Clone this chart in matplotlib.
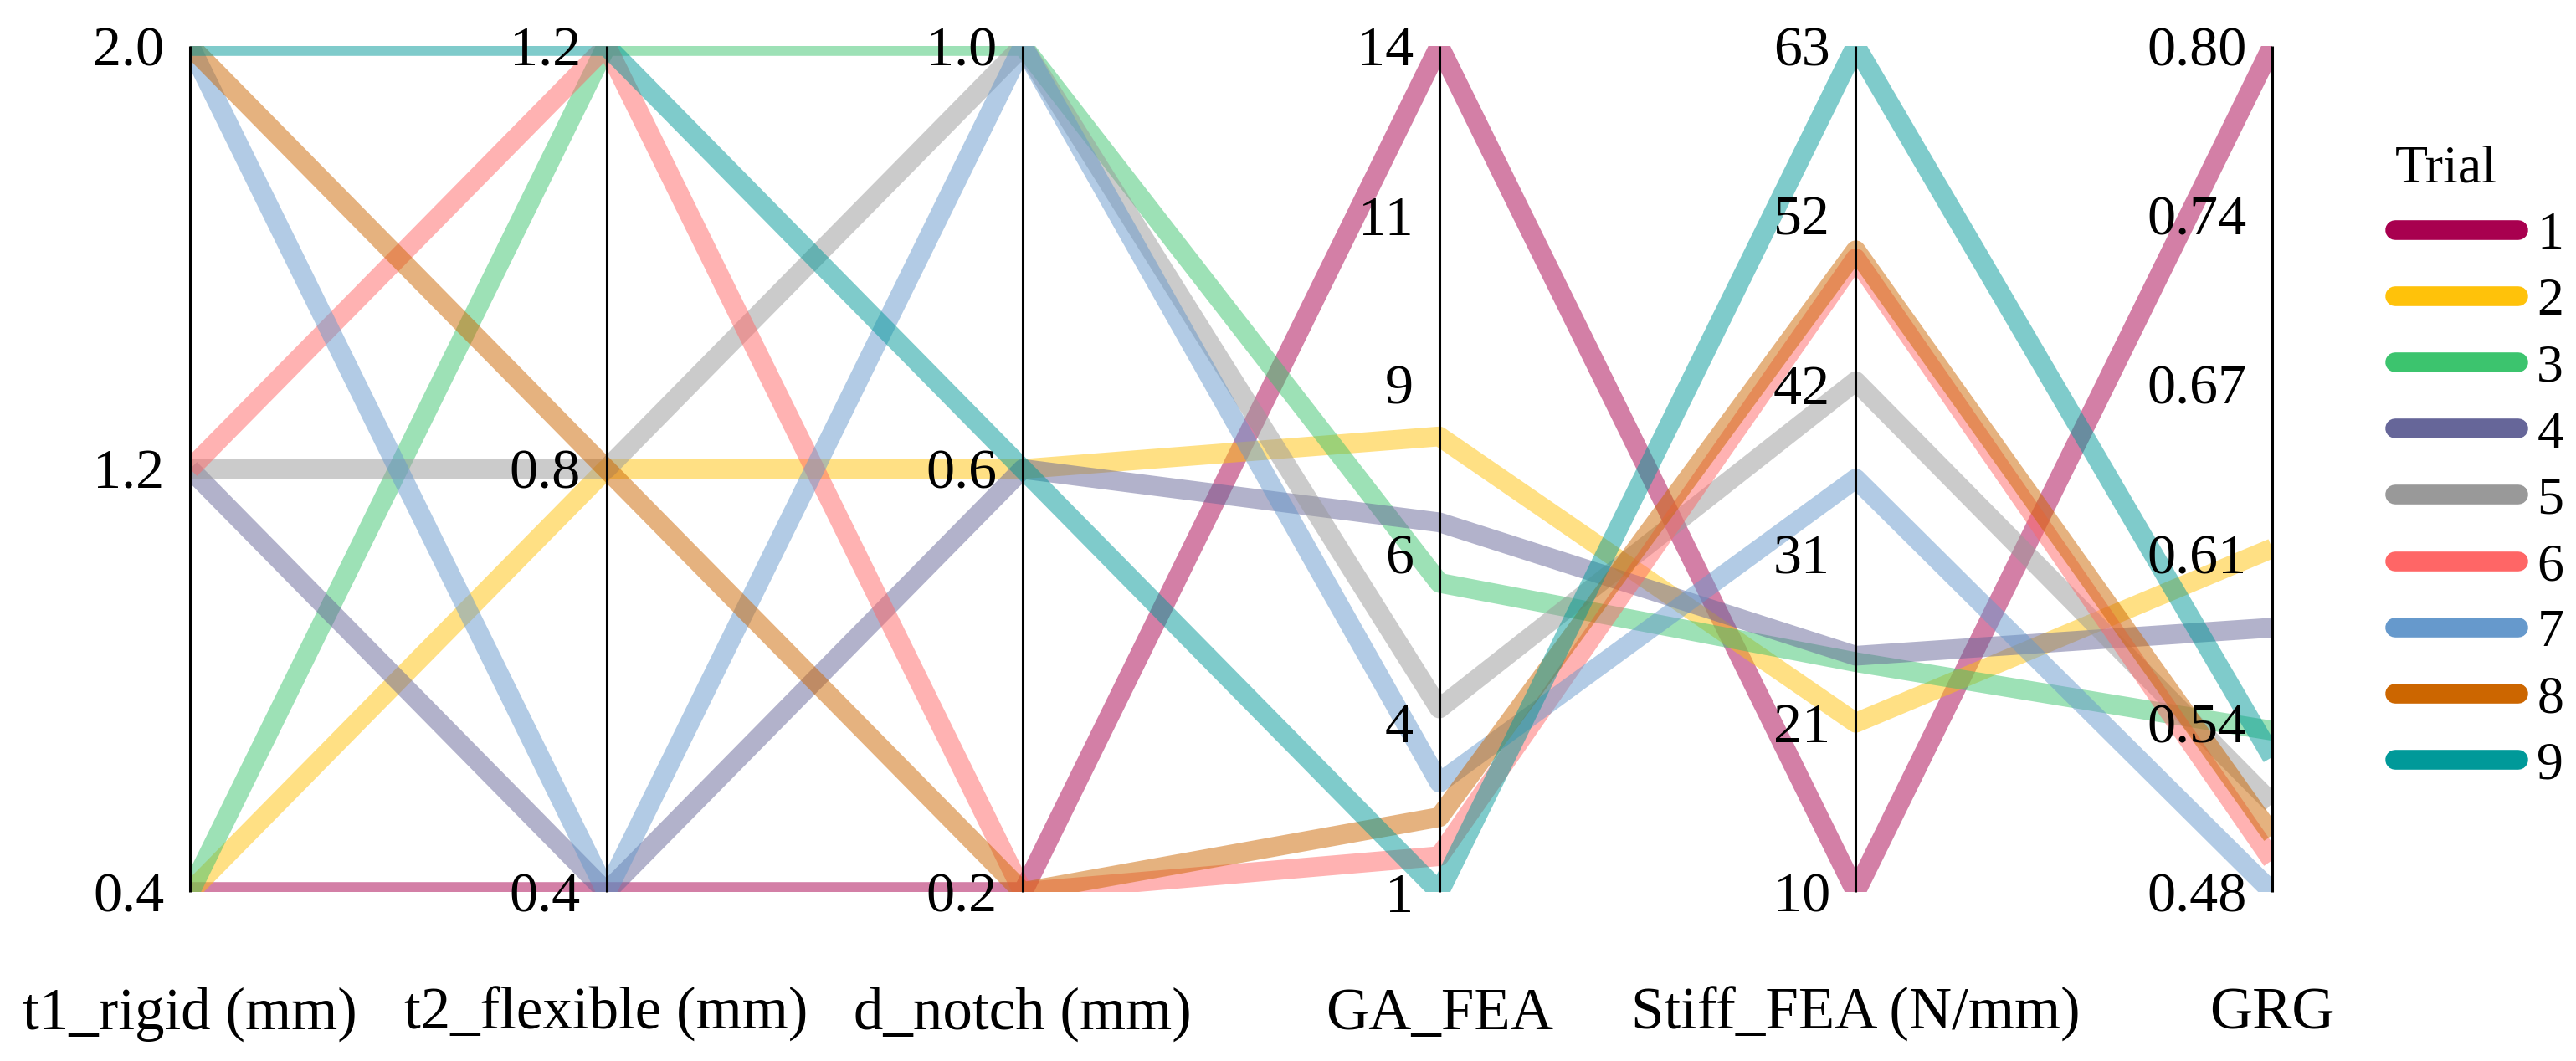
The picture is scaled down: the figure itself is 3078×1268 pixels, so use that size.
import os
import glob
import matplotlib.pyplot as plt
from matplotlib import font_manager
from matplotlib.font_manager import FontProperties
from matplotlib.lines import Line2D
import numpy as np

# look for a Times-like serif file (Liberation Serif), use it directly by path
serif_path = None
candidates = list(font_manager.findSystemFonts())
candidates += glob.glob('/usr/**/*.ttf', recursive=True)
candidates += [f.fname for f in font_manager.fontManager.ttflist]
for f in candidates:
    b = os.path.basename(f).lower().replace(' ', '').replace('-', '')
    if b.startswith('liberationserif') and 'regular' in b:
        serif_path = f
        break


def fprop(size):
    if serif_path:
        return FontProperties(fname=serif_path, size=size)
    return FontProperties(family='serif', size=size)


# trial data (L9 design + FEA responses)
trials = ['1', '2', '3', '4', '5', '6', '7', '8', '9']
t1_rigid = [0.4, 0.4, 0.4, 1.2, 1.2, 1.2, 2.0, 2.0, 2.0]
t2_flexible = [0.4, 0.8, 1.2, 0.4, 0.8, 1.2, 0.4, 0.8, 1.2]
d_notch = [0.2, 0.6, 1.0, 0.6, 1.0, 0.2, 1.0, 0.2, 0.6]
ga_fea = [14.0, 8.0, 5.75, 6.68, 3.82, 1.55, 2.68, 2.15, 1.0]
stiff_fea = [10.0, 20.6, 24.4, 24.8, 42.0, 49.7, 35.9, 50.2, 63.0]
grg = [0.80, 0.610, 0.541, 0.580, 0.5135, 0.492, 0.48, 0.5015, 0.531]

colors = ['#A8004F', '#FFC20A', '#3CC46E', '#666699', '#999999',
          '#FF6666', '#6699CC', '#CC6600', '#009999']

axis_names = ['t1_rigid (mm)', 't2_flexible (mm)', 'd_notch (mm)',
              'GA_FEA', 'Stiff_FEA (N/mm)', 'GRG']
axis_ranges = [(0.4, 2.0), (0.4, 1.2), (0.2, 1.0), (1, 14), (10, 63), (0.48, 0.80)]
tick_values = [
    [0.4, 1.2, 2.0],
    [0.4, 0.8, 1.2],
    [0.2, 0.6, 1.0],
    [1, 3.6, 6.2, 8.8, 11.4, 14],
    [10, 20.6, 31.2, 41.8, 52.4, 63],
    [0.48, 0.544, 0.608, 0.672, 0.736, 0.80],
]
tick_labels = [
    ['0.4', '1.2', '2.0'],
    ['0.4', '0.8', '1.2'],
    ['0.2', '0.6', '1.0'],
    ['1', '4', '6', '9', '11', '14'],
    ['10', '21', '31', '42', '52', '63'],
    ['0.48', '0.54', '0.61', '0.67', '0.74', '0.80'],
]

W, H = 3078, 1268
fig = plt.figure(figsize=(W / 100, H / 100), dpi=100)
ax = fig.add_axes([227 / W, (H - 1066) / H, (2715 - 227) / W, (1066 - 55) / H])
ax.set_xlim(0, 5)
ax.set_ylim(0, 1)
ax.axis('off')

cols = [t1_rigid, t2_flexible, d_notch, ga_fea, stiff_fea, grg]
norm = np.array([(np.array(c) - lo) / (hi - lo) for c, (lo, hi) in zip(cols, axis_ranges)])
xs = np.arange(len(axis_names))

for j in range(len(trials)):
    ax.plot(xs, norm[:, j], color=colors[j], lw=17, alpha=0.5,
            solid_joinstyle='round', solid_capstyle='butt')

ax.vlines(xs, 0, 1, color='black', lw=2.2, clip_on=False, zorder=5)

for i in range(len(axis_names)):
    lo, hi = axis_ranges[i]
    for tv, tl in zip(tick_values[i], tick_labels[i]):
        ax.annotate(tl, xy=(i, (tv - lo) / (hi - lo)), xytext=(-22, 0),
                    textcoords='offset points', ha='right', va='center_baseline',
                    fontproperties=fprop(49), annotation_clip=False)
    ax.annotate(axis_names[i], xy=(i, 0), xytext=(0, -118),
                textcoords='offset points', ha='center', va='baseline',
                fontproperties=fprop(51), annotation_clip=False)

handles = [Line2D([], [], color=c, lw=17, solid_capstyle='round') for c in colors]
leg = fig.legend(handles, trials, title='Trial', loc='upper left',
                 bbox_to_anchor=(2862 / W, (H - 174) / H), frameon=False,
                 prop=fprop(46), title_fontproperties=fprop(46), handlelength=2.3,
                 handletextpad=0.35, labelspacing=0.32, borderpad=0,
                 borderaxespad=0, alignment='left')

fig.savefig('out.png', dpi=100, facecolor='white')
